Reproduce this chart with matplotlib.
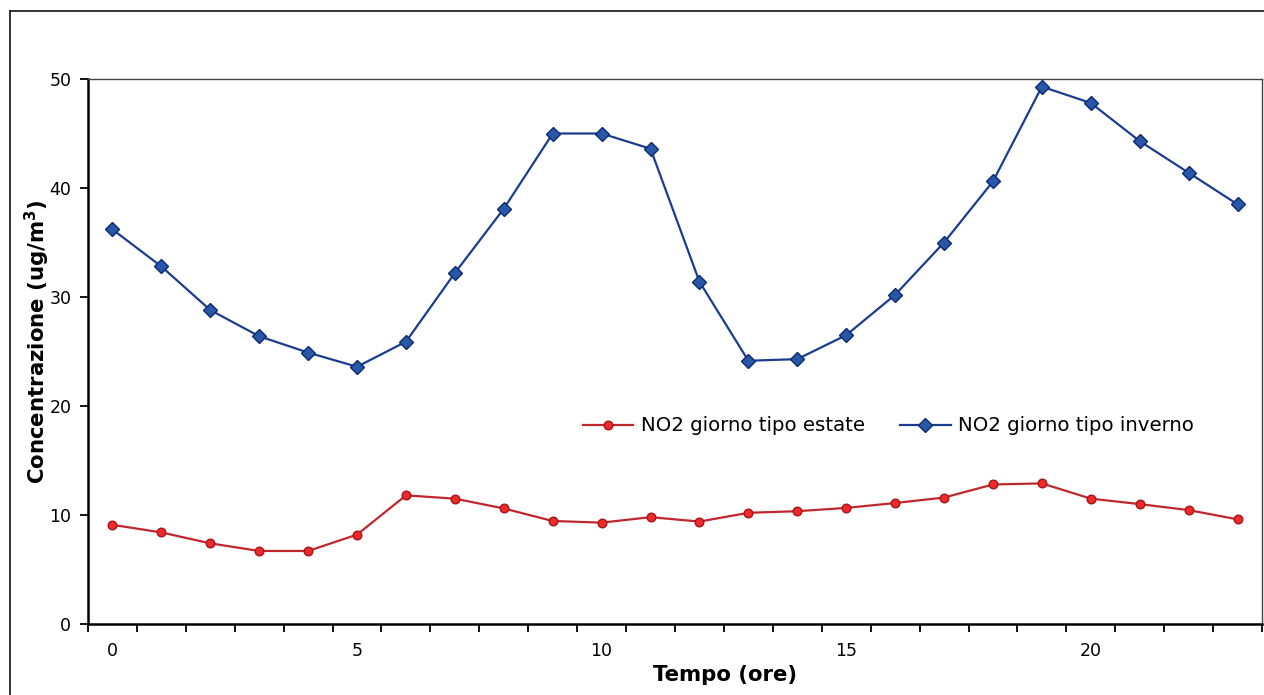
import matplotlib
matplotlib.use("Agg")
import matplotlib.pyplot as plt
from matplotlib.lines import Line2D

# Hourly NO2 concentrations (ug/m3) for a typical summer and winter day
hours = list(range(24))
no2_estate = [9.1, 8.4, 7.4, 6.7, 6.7, 8.2, 11.8, 11.5, 10.6, 9.45, 9.3, 9.8,
              9.4, 10.2, 10.35, 10.65, 11.1, 11.6, 12.8, 12.9, 11.5, 11.0, 10.45, 9.6]
no2_inverno = [36.2, 32.8, 28.8, 26.4, 24.9, 23.6, 25.9, 32.2, 38.1, 45.0, 45.0, 43.6,
               31.4, 24.15, 24.3, 26.5, 30.2, 35.0, 40.6, 49.3, 47.8, 44.3, 41.4, 38.5]
series_labels = ["NO2 giorno tipo estate", "NO2 giorno tipo inverno"]
x_tick_labels = [0, 5, 10, 15, 20]
y_ticks = [0, 10, 20, 30, 40, 50]

W, H = 1264, 695
fig = plt.figure(figsize=(W / 100, H / 100), dpi=100)
fig.patch.set_facecolor("white")

# outer chart frame (left and top edges visible)
fig.add_artist(Line2D([10 / W, 10 / W], [0, 1 - 11 / H], transform=fig.transFigure,
                      color="#222222", lw=1.3))
fig.add_artist(Line2D([10 / W, 1], [1 - 11 / H, 1 - 11 / H], transform=fig.transFigure,
                      color="#222222", lw=1.3))

left, right = 88 / W, 1262 / W
bottom, top = 1 - 624 / H, 1 - 79 / H
ax = fig.add_axes([left, bottom, right - left, top - bottom])

ax.plot(hours, no2_estate, color="#C0272D", lw=1.6, marker="o", markersize=6.2,
        markerfacecolor="#EE2A2A", markeredgecolor="#A8141A", markeredgewidth=1.0,
        label=series_labels[0], zorder=3)
ax.plot(hours, no2_inverno, color="#1B3C8F", lw=1.6, marker="D", markersize=6.8,
        markerfacecolor="#2857A8", markeredgecolor="#0E2A72", markeredgewidth=1.0,
        label=series_labels[1], zorder=3)

ax.set_xlim(-0.5, 23.5)
ax.set_ylim(0, 50)

# category axis: ticks between hours, labels on the hours
ax.set_xticks([h - 0.5 for h in range(25)])
ax.set_xticklabels([])
ax.set_xticks(x_tick_labels, minor=True)
ax.set_xticklabels([str(v) for v in x_tick_labels], minor=True)
ax.tick_params(axis="x", which="major", direction="out", length=6, width=1.3, color="black")
ax.tick_params(axis="x", which="minor", length=0, pad=13, labelsize=12.5)

ax.set_yticks(y_ticks)
ax.set_yticklabels([str(v) for v in y_ticks])
ax.tick_params(axis="y", direction="out", length=6, width=1.3, pad=6, labelsize=12.5)

for side in ("left", "bottom"):
    ax.spines[side].set_color("black")
    ax.spines[side].set_linewidth(1.8)
for side in ("top", "right"):
    ax.spines[side].set_color("#444444")
    ax.spines[side].set_linewidth(1.0)

fig.text(725 / W, 1 - 675 / H, "Tempo (ore)", ha="center", va="center",
         fontsize=15.3, fontweight="bold")
fig.text(37 / W, 1 - 342 / H, "Concentrazione (ug/m$^\\mathregular{3}$)", ha="center",
         va="center", rotation=90, fontsize=15.3, fontweight="bold")

leg = ax.legend(ncol=2, frameon=False, loc="center left",
                bbox_to_anchor=((583 - 88) / (1262 - 88), (624 - 426) / (624 - 79)),
                handlelength=2.55, handletextpad=0.38, columnspacing=1.8,
                borderaxespad=0, borderpad=0,
                prop={"family": "DejaVu Sans", "size": 14.2})

fig.savefig("out.png", dpi=100)
